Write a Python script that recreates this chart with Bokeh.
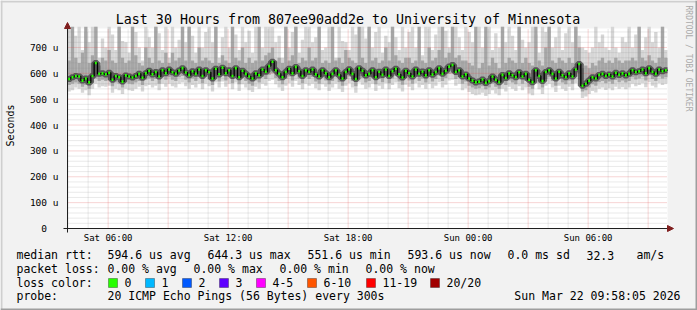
from datetime import datetime, timedelta
import math
from bokeh.plotting import figure
from bokeh.models import Label, BoxAnnotation, Arrow, NormalHead, FixedTicker
from bokeh.embed import file_html
from bokeh.resources import INLINE

# ---------------- data ----------------
t_end = datetime(2026, 3, 22, 9, 58, 5)
t_start = t_end - timedelta(hours=30)
step_minutes = 10

median_us = [
    578, 585, 590, 588, 572, 580, 565, 590, 640, 598, 600, 596,
    602, 575, 590, 585, 568, 592, 588, 584, 590, 598, 583, 600,
    610, 596, 605, 588, 612, 600, 615, 604, 598, 611, 620, 603,
    593, 608, 598, 615, 590, 612, 604, 580, 618, 596, 622, 600,
    612, 590, 620, 585, 610, 598, 588, 580, 600, 592, 615, 606,
    628, 645, 612, 598, 585, 605, 618, 600, 625, 608, 590, 612,
    605, 615, 596, 588, 612, 600, 585, 598, 612, 594, 580, 605,
    616, 598, 578, 620, 610, 592, 598, 612, 585, 606, 594, 615,
    590, 608, 618, 596, 584, 610, 600, 588, 615, 598, 607, 592,
    612, 595, 605, 620, 598, 610, 626, 632, 605, 612, 588, 596,
    580, 572, 565, 568, 576, 563, 570, 588, 575, 566, 594, 582,
    600, 592, 585, 604, 588, 598, 575, 566, 612, 590, 570, 605,
    612, 598, 580, 606, 592, 585, 600, 588, 615, 636, 552, 560,
    572, 585, 580, 594, 598, 590, 596, 588, 602, 594, 600, 592,
    598, 612, 604, 608, 615, 600, 620, 606, 598, 615, 608, 612,
]

smoke_max_us = [
    780, 700, 745, 780, 690, 760, 720, 780, 780, 660, 735, 700,
    780, 750, 690, 780, 725, 720, 680, 780, 760, 700, 650, 780,
    740, 700, 780, 755, 690, 780, 660, 780, 700, 730, 780, 720,
    780, 745, 680, 780, 700, 760, 780, 720, 780, 660, 740, 780,
    700, 780, 750, 690, 780, 720, 765, 680, 780, 735, 700, 780,
    780, 780, 720, 745, 660, 780, 700, 760, 780, 680, 730, 780,
    780, 720, 740, 780, 690, 700, 780, 755, 660, 780, 725, 720,
    690, 780, 750, 700, 780, 735, 780, 700, 760, 780, 680, 745,
    720, 780, 740, 690, 780, 700, 760, 780, 700, 730, 670, 780,
    780, 690, 750, 780, 720, 765, 700, 780, 780, 740, 690, 780,
    760, 720, 680, 780, 700, 740, 780, 690, 755, 700, 780, 720,
    780, 745, 690, 780, 730, 700, 720, 780, 750, 680, 780, 760,
    780, 700, 740, 780, 690, 755, 780, 720, 780, 745, 700, 690,
    680, 700, 780, 720, 750, 700, 690, 780, 700, 680, 740, 720,
    780, 700, 750, 780, 690, 740, 780, 720, 760, 700, 780, 690,
]

smoke_hi_us = [
    650, 780, 660, 640, 680, 780, 640, 670, 780, 630, 660, 650,
    690, 650, 640, 780, 660, 640, 650, 780, 670, 640, 630, 700,
    660, 640, 780, 650, 640, 680, 640, 680, 650, 660, 780, 650,
    780, 650, 640, 700, 650, 660, 650, 640, 780, 640, 670, 650,
    640, 780, 660, 650, 700, 640, 660, 640, 650, 780, 650, 670,
    680, 700, 650, 660, 640, 780, 650, 670, 780, 640, 660, 650,
    700, 650, 660, 780, 640, 650, 640, 780, 650, 660, 640, 690,
    660, 650, 640, 780, 660, 640, 780, 650, 660, 640, 650, 700,
    650, 780, 670, 650, 640, 660, 660, 640, 650, 780, 650, 640,
    700, 650, 660, 690, 780, 660, 680, 780, 660, 670, 650, 650,
    640, 630, 780, 620, 640, 780, 630, 660, 640, 620, 780, 640,
    660, 650, 640, 780, 640, 660, 640, 630, 780, 650, 630, 700,
    780, 650, 640, 660, 650, 640, 660, 640, 780, 700, 620, 630,
    620, 640, 630, 650, 660, 640, 650, 640, 660, 650, 640, 650,
    650, 660, 650, 780, 660, 650, 670, 650, 640, 660, 780, 660,
]

smoke_lo_us = [
    555, 560, 565, 560, 548, 555, 540, 565, 580, 570, 575, 570,
    575, 550, 565, 560, 545, 565, 560, 558, 565, 570, 555, 575,
    580, 570, 578, 560, 585, 575, 585, 575, 570, 585, 590, 575,
    565, 580, 570, 585, 562, 585, 575, 555, 590, 568, 592, 572,
    585, 562, 590, 558, 582, 570, 560, 552, 572, 565, 585, 578,
    595, 600, 582, 570, 558, 578, 588, 572, 595, 580, 562, 585,
    578, 586, 568, 560, 584, 572, 558, 570, 585, 566, 552, 578,
    588, 570, 550, 590, 582, 565, 570, 585, 558, 578, 566, 588,
    562, 580, 590, 568, 556, 582, 572, 560, 588, 570, 580, 565,
    585, 568, 578, 592, 570, 582, 598, 600, 578, 585, 560, 568,
    552, 545, 540, 542, 550, 538, 545, 560, 548, 540, 566, 555,
    572, 565, 558, 576, 560, 570, 548, 540, 585, 562, 545, 578,
    585, 570, 552, 578, 565, 558, 572, 560, 588, 600, 530, 535,
    545, 558, 552, 566, 570, 562, 568, 560, 574, 566, 572, 565,
    570, 585, 576, 580, 588, 572, 592, 578, 570, 588, 580, 585,
]

smoke_min_us = [
    530, 535, 545, 540, 525, 535, 515, 540, 560, 545, 550, 548,
    552, 525, 540, 535, 520, 540, 535, 532, 540, 548, 530, 550,
    555, 545, 552, 535, 560, 548, 560, 550, 545, 560, 565, 550,
    540, 555, 545, 560, 538, 560, 550, 530, 565, 545, 568, 548,
    560, 538, 565, 532, 558, 545, 535, 528, 548, 540, 560, 552,
    570, 575, 558, 545, 532, 552, 562, 548, 570, 555, 538, 560,
    552, 560, 542, 535, 558, 548, 532, 545, 560, 540, 528, 552,
    562, 545, 525, 565, 556, 540, 545, 560, 532, 552, 540, 562,
    538, 555, 565, 542, 530, 556, 548, 535, 562, 545, 555, 540,
    560, 542, 552, 566, 545, 556, 572, 575, 552, 560, 535, 542,
    528, 520, 515, 518, 525, 512, 520, 535, 522, 515, 540, 530,
    548, 540, 532, 550, 535, 545, 522, 515, 560, 538, 520, 552,
    560, 545, 528, 552, 540, 532, 548, 535, 562, 575, 505, 510,
    520, 532, 526, 540, 545, 536, 542, 535, 548, 540, 546, 538,
    545, 560, 550, 555, 562, 546, 566, 552, 545, 562, 555, 560,
]

y_ticks = [0, 100, 200, 300, 400, 500, 600, 700]
y_tick_labels = ["\u00a0\u00a00\u00a0\u00a0", "100 u", "200 u", "300 u", "400 u", "500 u", "600 u", "700 u"]
y_top = 773.4

x_tick_times = [datetime(2026, 3, 21, 6), datetime(2026, 3, 21, 12), datetime(2026, 3, 21, 18),
                datetime(2026, 3, 22, 0), datetime(2026, 3, 22, 6)]
x_tick_labels = ["Sat 06:00", "Sat 12:00", "Sat 18:00", "Sun 00:00", "Sun 06:00"]

title_text = "Last 30 Hours from 807ee90add2e to University of Minnesota"
line_rtt = [("median rtt:", 16), ("594.6 us avg", 107), ("644.3 us max", 207), ("551.6 us min", 307),
            ("593.6 us now", 407), ("0.0 ms sd", 507), ("32.3", 586), ("am/s", 636)]
line_loss = [("packet loss:", 16), ("0.00 % avg", 107), ("0.00 % max", 193), ("0.00 % min", 279),
             ("0.00 % now", 365)]
loss_names = ["0", "1", "2", "3", "4-5", "6-10", "11-19", "20/20"]
loss_colors = ["#26ff00", "#00b8ff", "#0059ff", "#5e00ff", "#ff00ff", "#ff5500", "#ff0000", "#a10000"]
loss_box_x = [108, 145, 182, 219, 256, 307, 366, 430]
probe_text = "20 ICMP Echo Pings (56 Bytes) every 300s"
date_text = "Sun Mar 22 09:58:05 2026"
watermark = "RRDTOOL / TOBI OETIKER"

# ---------------- derived ----------------
EPOCH = datetime(1970, 1, 1)
def ms(d):
    return (d - EPOCH).total_seconds() * 1000.0

n = len(median_us)
step = timedelta(minutes=step_minutes)
lefts = [ms(t_start + step * i) for i in range(n)]
rights = [ms(t_start + step * (i + 1)) for i in range(n)]
step_ms = rights[0] - lefts[0]

W, H = 697, 310
FL, FR, FT, FB = 67, 667, 28, 228          # plot area in canvas pixels
XS = (ms(t_end) - ms(t_start)) / (FR - FL)  # ms per pixel
YS = y_top / (FB - FT)                      # us per pixel
x0 = ms(t_start)

FONT = "DejaVu Sans Mono"

p = figure(width=W, height=H, output_backend="svg", toolbar_location=None, title=None,
           x_axis_type="datetime",
           x_range=(x0 - FL * XS, x0 + (W - FL) * XS),
           y_range=(-(H - FB) * YS, y_top + FT * YS),
           min_border=0)
p.background_fill_color = "#F2F2F2"
p.border_fill_color = "#F2F2F2"
p.outline_line_color = None
p.xgrid.visible = False
p.ygrid.visible = False

# white graph canvas
p.quad(left=[x0], right=[ms(t_end)], bottom=[0], top=[y_top], fill_color="#FFFFFF", line_color=None)

# smoke
p.quad(left=lefts, right=rights, bottom=smoke_min_us, top=smoke_max_us,
       fill_color="#d6d6d6", line_color=None)
p.quad(left=lefts, right=rights, bottom=smoke_lo_us, top=smoke_hi_us,
       fill_color="#a6a6a6", line_color=None)

# grid lines (dotted), limited to the graph canvas
hours = [ms(t_start.replace(minute=0, second=0) + timedelta(hours=h)) for h in range(1, 31)]
hours = [h for h in hours if h < ms(t_end)]
red_v = [h for h in hours if int(h / 3600000) % 3 == 0]
gray_v = [h for h in hours if h not in red_v]
gray_h = [v for v in range(20, 780, 20) if v % 100 != 0 and v < y_top]
red_h = [v for v in y_ticks if v > 0]
p.segment(x0=gray_v, x1=gray_v, y0=[0] * len(gray_v), y1=[y_top] * len(gray_v),
          line_color="#8F8F8F", line_alpha=0.38, line_dash="1 1", line_width=1)
p.segment(x0=[x0] * len(gray_h), x1=[ms(t_end)] * len(gray_h), y0=gray_h, y1=gray_h,
          line_color="#8F8F8F", line_alpha=0.38, line_dash="1 1", line_width=1)
p.segment(x0=red_v, x1=red_v, y0=[0] * len(red_v), y1=[y_top] * len(red_v),
          line_color="#DE4F4F", line_alpha=0.48, line_dash="1 1", line_width=1)
p.segment(x0=[x0] * len(red_h), x1=[ms(t_end)] * len(red_h), y0=red_h, y1=red_h,
          line_color="#DE4F4F", line_alpha=0.48, line_dash="1 1", line_width=1)

# median
p.step(x=lefts + [rights[-1]], y=median_us + [median_us[-1]], mode="after",
       line_color="#3c3c3c", line_width=6, line_alpha=0.75)
p.step(x=lefts + [rights[-1]], y=median_us + [median_us[-1]], mode="after",
       line_color="#000000", line_width=1.3)
p.segment(x0=[l + 0.2 * step_ms for l in lefts], x1=[r - 0.2 * step_ms for r in rights],
          y0=median_us, y1=median_us, line_color="#26ff00", line_width=2.6)

# y axis (fixed at the start time)
yax = p.yaxis[0]
yax.fixed_location = x0
yax.bounds = (-4 * YS, y_top + 3 * YS)
yax.ticker = FixedTicker(ticks=y_ticks)
yax.major_label_overrides = {t: l for t, l in zip(y_ticks, y_tick_labels)}
yax.major_tick_line_color = None
yax.minor_tick_line_color = None
yax.major_tick_out = 0
yax.major_tick_in = 0
yax.major_label_standoff = 9
yax.major_label_text_font = FONT
yax.major_label_text_font_size = "9.5px"
yax.major_label_text_color = "#000000"
yax.axis_line_color = "#1F1F1F"

# x axis (fixed at zero)
xax = p.xaxis[0]
xax.fixed_location = 0
xax.bounds = (x0 - 4 * XS, ms(t_end) + 3 * XS)
x_ticks_ms = [ms(d) for d in x_tick_times]
xax.ticker = FixedTicker(ticks=x_ticks_ms)
xax.major_label_overrides = {t: l for t, l in zip(x_ticks_ms, x_tick_labels)}
xax.major_tick_line_color = None
xax.minor_tick_line_color = None
xax.major_tick_out = 0
xax.major_tick_in = 0
xax.major_label_standoff = 4
xax.major_label_text_font = FONT
xax.major_label_text_font_size = "9px"
xax.major_label_text_color = "#000000"
xax.axis_line_color = "#1F1F1F"

# axis arrows
head_col = "#801F1F"
p.add_layout(Arrow(end=NormalHead(size=6, fill_color=head_col, line_color=head_col, line_width=1),
                   x_start=ms(t_end), y_start=0, x_end=ms(t_end) + 6 * XS, y_end=0, line_color=None))
p.add_layout(Arrow(end=NormalHead(size=6, fill_color=head_col, line_color=head_col, line_width=1),
                   x_start=x0, y_start=y_top, x_end=x0, y_end=y_top + 6 * YS, line_color=None))

# texts (screen units: canvas pixels, y measured from the bottom)
def lab(text, cx, cy, size="11.5px", align="left", angle=0.0, color="#000000"):
    p.add_layout(Label(x=cx, y=H - cy, x_units="screen", y_units="screen", text=text,
                       text_font=FONT, text_font_size=size, text_align=align,
                       text_baseline="middle", text_color=color, angle=angle))

lab(title_text, 347.5, 19, size="13.3px", align="center")
lab("Seconds", 10, 125, size="10px", align="center", angle=math.pi / 2)
lab(watermark, 688, 58, size="8px", align="center", angle=-math.pi / 2, color="#aaaaaa")
for text, x in line_rtt:
    lab(text, x, 254.5)
for text, x in line_loss:
    lab(text, x, 268.3)
lab("loss color:", 16, 282.3)
for name, bx in zip(loss_names, loss_box_x):
    lab(name, bx + 16, 282.3)
lab("probe:", 16, 295.7)
lab(probe_text, 107, 295.7)
lab(date_text, 680, 295.7, align="right")

def band(l, r, t, b, col, line=None):
    p.add_layout(BoxAnnotation(left=l, right=r, top=H - t, bottom=H - b,
                               left_units="screen", right_units="screen",
                               top_units="screen", bottom_units="screen",
                               fill_color=col, fill_alpha=1.0, line_color=line, line_width=1))

for col, bx in zip(loss_colors, loss_box_x):
    band(bx, bx + 9, 278, 287, col, line="#000000")

# 3D frame around the image
band(0, W, 0, 2, "#CFCFCF")
band(0, 2, 0, H, "#CFCFCF")
band(0, W, H - 2, H, "#9E9E9E")
band(W - 2, W, 0, H, "#9E9E9E")

open("out.html", "w").write(file_html(p, INLINE, "smokeping"))
